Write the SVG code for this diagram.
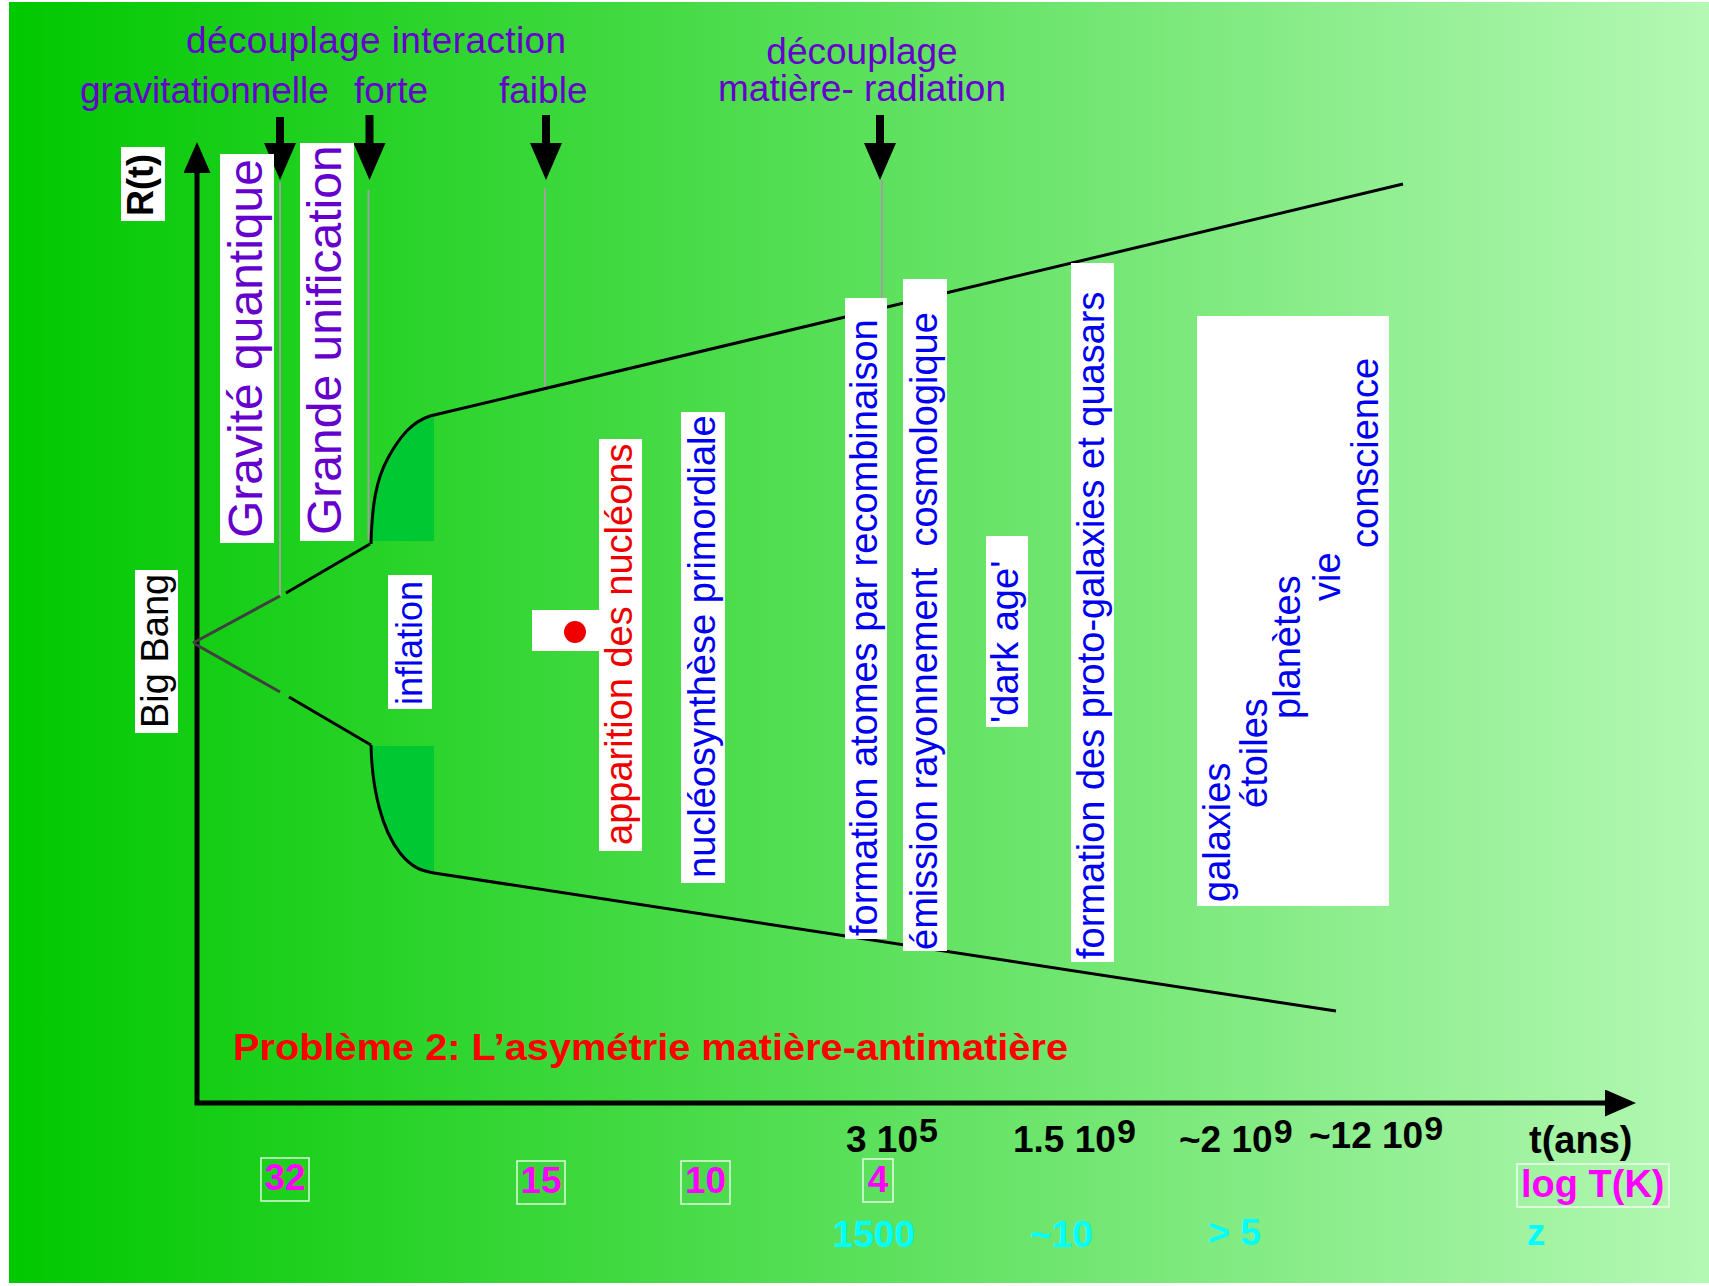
<svg xmlns="http://www.w3.org/2000/svg" width="1709" height="1286" viewBox="0 0 1709 1286">
  <defs>
    <linearGradient id="bg" x1="0" y1="0" x2="1" y2="0">
      <stop offset="0" stop-color="#00c800"/>
      <stop offset="1" stop-color="#b4f8b4"/>
    </linearGradient>
    <!-- big downward arrow heads -->
    <marker id="head" viewBox="0 0 37 32" markerWidth="37" markerHeight="32" refX="3" refY="16" orient="auto" markerUnits="userSpaceOnUse">
      <path d="M0,0 L37,16 L0,32 z" fill="#000"/>
    </marker>
    <!-- axis arrow heads -->
    <marker id="axhead" viewBox="0 0 31 27" markerWidth="31" markerHeight="27" refX="3" refY="13.5" orient="auto-start-reverse" markerUnits="userSpaceOnUse">
      <path d="M0,0 L31,13.5 L0,27 z" fill="#000"/>
    </marker>
    <style>
      text { font-family: "Liberation Sans", Arial, sans-serif; }
      .top { font-size: 37px; fill: #6600cc; }
      .box { fill: #ffffff; }
      .big { font-size: 48px; fill: #6600cc; }
      .v { font-size: 38px; fill: #0000f0; }
      .red { fill: #ee0000; }
      .num { font-size: 37px; font-weight: bold; fill: #000; }
      .mag { font-size: 37px; font-weight: bold; fill: #ff00ff; }
      .cyan { font-size: 37px; font-weight: bold; fill: #00ffff; }
      .frame { fill: none; stroke: #ffffff; stroke-width: 1.5; stroke-opacity: 0.85; }
      .guide { stroke: #a0a0a0; stroke-width: 2; fill: none; }
      .arrow { stroke: #000; stroke-width: 8; marker-end: url(#head); }
      .edge { stroke: #000; stroke-width: 3; fill: none; }
      .early { stroke: #404040; stroke-width: 3; fill: none; }
      .infl { fill: #00c832; }
    </style>
  </defs>

  <!-- page -->
  <rect x="0" y="0" width="1709" height="1286" fill="#ffffff"/>
  <rect x="9" y="2" width="1700" height="1281" fill="url(#bg)"/>

  <!-- inflation shading -->
  <g id="inflation-shading">
    <path class="infl" d="M372,541 C373,505 377,480 388,458 C400,436 412,422 430,416 L434,416 L434,541 Z"/>
    <path class="infl" d="M372,746 C373,790 382,830 400,853 C412,868 422,871 434,873 L434,746 Z"/>
  </g>

  <!-- connectors: axes, expansion curve, event arrows and guides -->
  <g id="connectors">
    <path d="M197,170 V1103 H1608" stroke="#000" stroke-width="5" fill="none" stroke-linejoin="miter" marker-start="url(#axhead)" marker-end="url(#axhead)"/>

    <!-- event arrows -->
    <line class="arrow" x1="280" y1="117" x2="280" y2="146"/>
    <line class="arrow" x1="369.5" y1="115" x2="369.5" y2="146"/>
    <line class="arrow" x1="546" y1="115" x2="546" y2="146"/>
    <line class="arrow" x1="880" y1="115" x2="880" y2="146"/>

    <!-- guides under the arrows -->
    <line class="guide" x1="280" y1="182" x2="280" y2="596"/>
    <line class="guide" x1="368.5" y1="190" x2="368.5" y2="540"/>
    <line class="guide" x1="545" y1="188" x2="545" y2="391"/>
    <line class="guide" x1="882" y1="180" x2="882" y2="300"/>

    <!-- Big Bang cone -->
    <line class="early" x1="193" y1="643" x2="280" y2="596"/>
    <line class="early" x1="195" y1="644" x2="280" y2="692"/>
    <line class="edge" x1="286" y1="593" x2="370" y2="544"/>
    <line class="edge" x1="289" y1="697" x2="371" y2="745"/>

    <!-- inflation curves and expansion -->
    <path class="edge" d="M371,544 C372,505 376,480 388,458 C400,436 412,422 430,416 L1403,184"/>
    <path class="edge" d="M371,745 C372,790 382,830 400,853 C412,868 422,871 434,873 L1336,1011"/>
  </g>

  <!-- interaction labels -->
  <g id="label-decouplage-interaction">
    <text class="top" x="376" y="53" text-anchor="middle" textLength="380">découplage interaction</text>
  </g>
  <g id="label-gravitationnelle">
    <text class="top" x="80" y="103">gravitationnelle</text>
  </g>
  <g id="label-forte">
    <text class="top" x="354" y="103">forte</text>
  </g>
  <g id="label-faible">
    <text class="top" x="499" y="103">faible</text>
  </g>
  <g id="label-decouplage-matiere">
    <text class="top" x="862" y="64" text-anchor="middle">découplage</text>
    <text class="top" x="862" y="101" text-anchor="middle">matière- radiation</text>
  </g>

  <!-- axis labels -->
  <g id="axis-r">
    <rect class="box" x="121" y="147" width="44" height="74"/>
    <text transform="translate(153,216) rotate(-90)" font-size="36" font-weight="bold" fill="#000">R(t)</text>
  </g>
  <g id="big-bang">
    <rect class="box" x="135" y="570" width="43" height="163"/>
    <text transform="translate(168,728) rotate(-90)" font-size="38" fill="#000">Big Bang</text>
  </g>

  <!-- eras -->
  <g id="era-gravite">
    <rect class="box" x="220" y="154" width="54" height="389"/>
    <text class="big" transform="translate(262,538) rotate(-90)">Gravité quantique</text>
  </g>
  <g id="era-grande-unification">
    <rect class="box" x="300" y="143" width="54" height="398"/>
    <text class="big" transform="translate(341,535) rotate(-90)">Grande unification</text>
  </g>
  <g id="era-inflation">
    <rect class="box" x="388" y="575" width="44" height="134"/>
    <text class="v" style="font-size:36px" transform="translate(422,705) rotate(-90)">inflation</text>
  </g>
  <g id="era-nucleons">
    <rect class="box" x="532" y="610" width="68" height="41"/>
    <circle cx="575" cy="632" r="11" fill="#ee0000"/>
    <rect class="box" x="599" y="439" width="43" height="412"/>
    <text class="v red" transform="translate(632,845) rotate(-90)">apparition des nucléons</text>
  </g>
  <g id="era-nucleosynthese">
    <rect class="box" x="681" y="412" width="44" height="471"/>
    <text class="v" transform="translate(715,878) rotate(-90)">nucléosynthèse primordiale</text>
  </g>
  <g id="era-recombinaison">
    <rect class="box" x="845" y="298" width="42" height="641"/>
    <text class="v" transform="translate(877,936) rotate(-90)">formation atomes par recombinaison</text>
  </g>
  <g id="era-emission">
    <rect class="box" x="903" y="279" width="44" height="672"/>
    <text class="v" transform="translate(937,950) rotate(-90)" xml:space="preserve">émission rayonnement  cosmologique</text>
  </g>
  <g id="era-dark-age">
    <rect class="box" x="986" y="536" width="42" height="191"/>
    <text class="v" transform="translate(1018,723) rotate(-90)">'dark age'</text>
  </g>
  <g id="era-proto-galaxies">
    <rect class="box" x="1071" y="263" width="43" height="699"/>
    <text class="v" transform="translate(1104,959) rotate(-90)">formation des proto-galaxies et quasars</text>
  </g>
  <g id="era-structures">
    <rect class="box" x="1197" y="316" width="192" height="590"/>
    <text class="v" transform="translate(1230,902) rotate(-90)">galaxies</text>
    <text class="v" transform="translate(1267,808) rotate(-90)">étoiles</text>
    <text class="v" transform="translate(1300,719) rotate(-90)">planètes</text>
    <text class="v" transform="translate(1340,601) rotate(-90)">vie</text>
    <text class="v" transform="translate(1378,548) rotate(-90)">conscience</text>
  </g>

  <!-- problem statement -->
  <g id="probleme">
    <text x="233" y="1060" font-size="37" font-weight="bold" fill="#ff0000" textLength="835" lengthAdjust="spacingAndGlyphs">Problème 2: L’asymétrie matière-antimatière</text>
  </g>

  <!-- time scale -->
  <g id="time-scale">
    <text class="num" x="846" y="1152">3 10<tspan dx="1" dy="-10" font-size="34">5</tspan></text>
    <text class="num" x="1013" y="1152">1.5 10<tspan dx="1" dy="-9" font-size="34">9</tspan></text>
    <text class="num" x="1179" y="1152">~2 10<tspan dx="1" dy="-9" font-size="34">9</tspan></text>
    <text class="num" x="1309" y="1148">~12 10<tspan dx="1" dy="-8" font-size="34">9</tspan></text>
    <text class="num" x="1529" y="1153" style="font-size:38px">t(ans)</text>
  </g>

  <!-- temperature scale -->
  <g id="temperature-scale">
    <rect class="frame" x="261" y="1158" width="48" height="43"/>
    <text class="mag" x="285" y="1190" text-anchor="middle">32</text>
    <rect class="frame" x="517" y="1161" width="48" height="43"/>
    <text class="mag" x="541" y="1193" text-anchor="middle">15</text>
    <rect class="frame" x="681" y="1161" width="49" height="43"/>
    <text class="mag" x="705.5" y="1193" text-anchor="middle">10</text>
    <rect class="frame" x="863" y="1159" width="30" height="43"/>
    <text class="mag" x="878" y="1192" text-anchor="middle">4</text>
    <rect class="frame" x="1517" y="1164" width="152" height="43"/>
    <text class="mag" x="1521" y="1197" style="font-size:38px">log T(K)</text>
  </g>

  <!-- redshift scale -->
  <g id="redshift-scale">
    <text class="cyan" x="874" y="1247" text-anchor="middle">1500</text>
    <text class="cyan" x="1061.5" y="1247" text-anchor="middle">~10</text>
    <text class="cyan" x="1234.5" y="1245" text-anchor="middle">&gt; 5</text>
    <text class="cyan" x="1536" y="1245" text-anchor="middle">z</text>
  </g>
</svg>
